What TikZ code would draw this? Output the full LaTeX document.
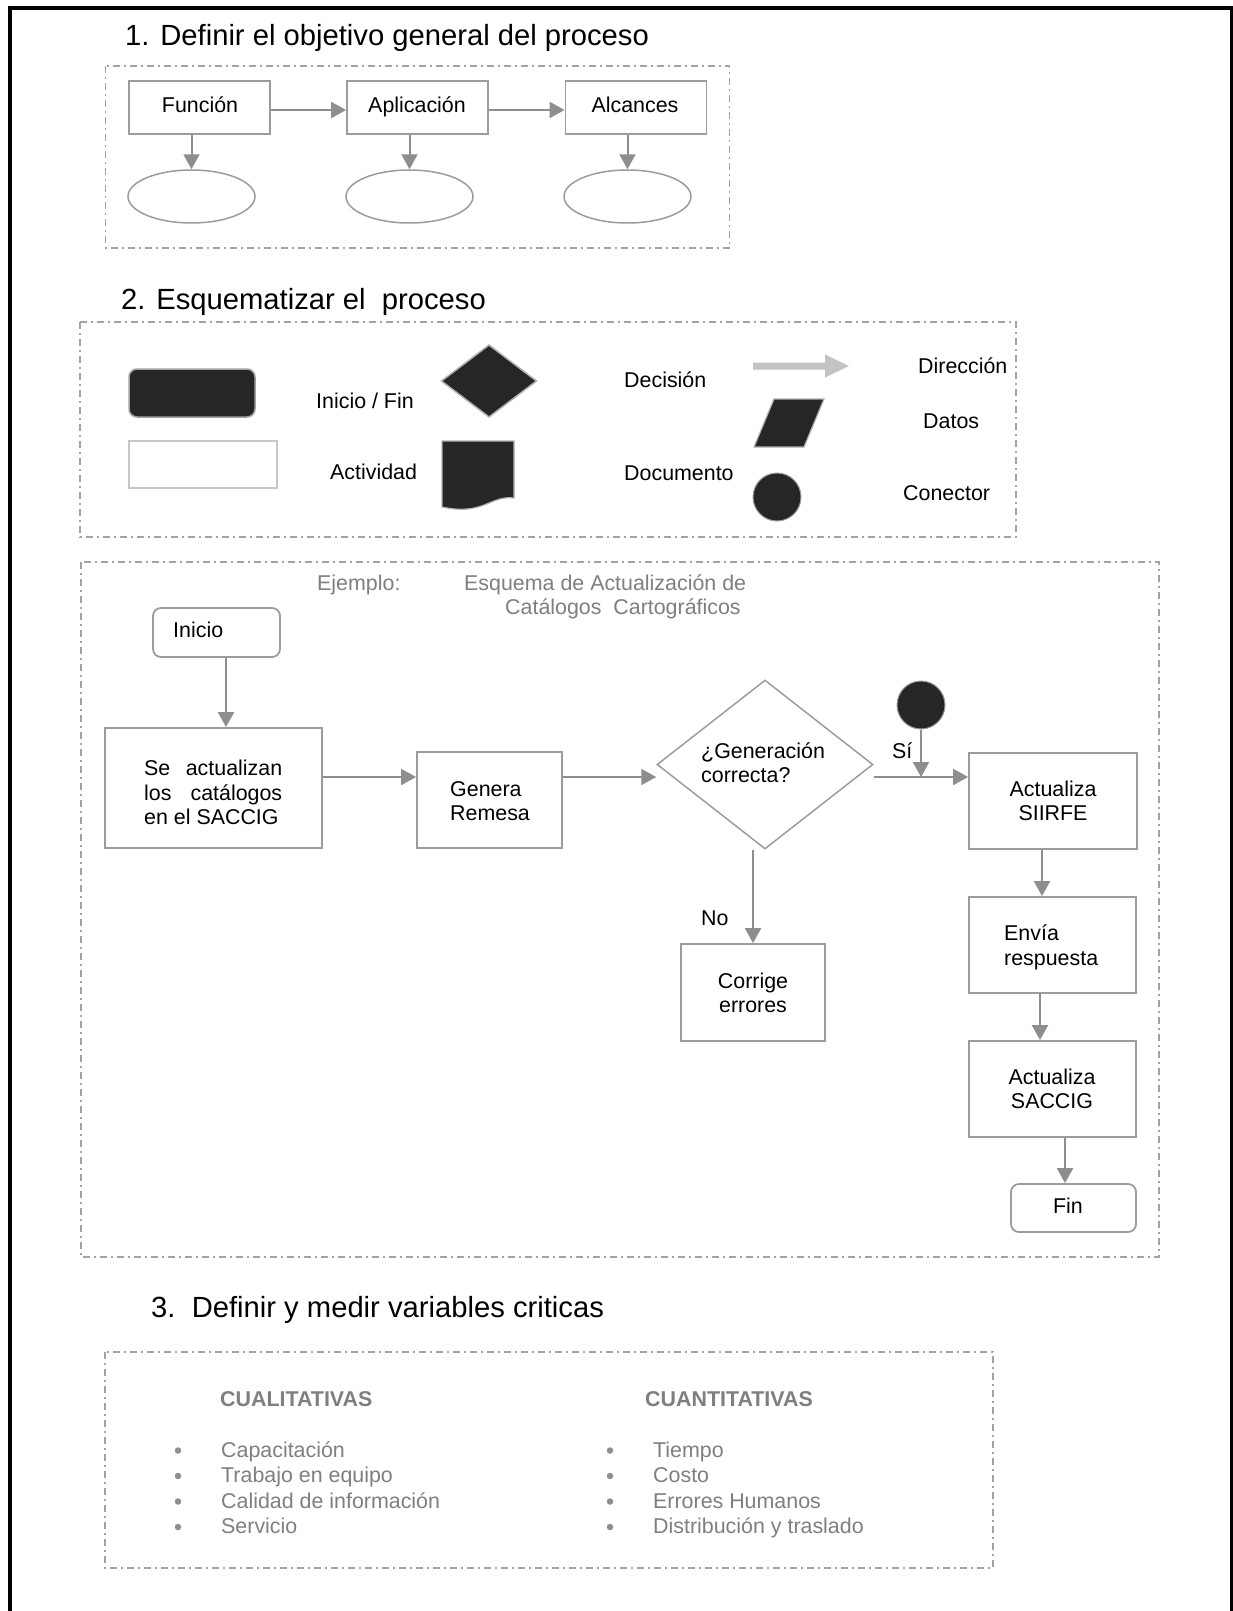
\documentclass[tikz,border=0pt]{standalone}
\usepackage{fontspec}
\setmainfont{Liberation Sans}
\usetikzlibrary{arrows.meta,shapes.geometric}
\definecolor{boxgray}{HTML}{9C9C9C}
\definecolor{arrgray}{HTML}{8E8E8E}
\definecolor{dashgray}{HTML}{A3A3A3}
\definecolor{dark}{HTML}{262626}
\definecolor{txtgray}{HTML}{7F7F7F}
\definecolor{lightarr}{HTML}{C3C3C3}
\newcommand\fsn{\fontsize{21.4}{25}\selectfont}
\newcommand\ttlf{\fontsize{29.2}{33}\selectfont}
\tikzset{
  x=1pt,y=-1pt,
  dashbox/.style={draw=dashgray,line width=1.5pt,dash pattern=on 7pt off 4pt on 2pt off 4pt},
  fbox/.style={draw=boxgray,line width=1.8pt,fill=white,inner sep=0pt,rectangle},
  rbox/.style={fbox,rounded corners=8pt},
  ell/.style={draw=boxgray,line width=1.5pt,ellipse,inner sep=0pt,minimum width=127pt,minimum height=53pt},
  dia/.style={draw=boxgray,line width=1.5pt,diamond,inner sep=0pt,minimum width=216pt,minimum height=169pt},
  conn/.style={circle,fill=dark,draw=boxgray,line width=1pt,minimum size=48pt,inner sep=0pt},
  arr/.style={draw=arrgray,line width=2pt,-{Triangle[length=15pt,width=16pt]}},
  tl/.style={inner sep=0pt,anchor=base west,font=\fsn},
  tc/.style={inner sep=0pt,anchor=base,font=\fsn},
  ttl/.style={inner sep=0pt,anchor=base west,font=\ttlf},
  gl/.style={tl,text=txtgray},
  bul/.style={circle,fill=arrgray,inner sep=0pt,minimum size=6.5pt}
}
\begin{document}
\begin{tikzpicture}
\useasboundingbox (0,0) rectangle (1233,1611);
\fill[white] (0,0) rectangle (1233,1611);
% outer frame
\draw[line width=4pt] (9.5,1611) -- (9.5,8) -- (1231.5,8) -- (1231.5,1611);

% ---------- Section 1 ----------
\node[ttl] (t1) at (125,46) {1. Definir el objetivo general del proceso};
\draw[dashbox] (105.5,66) rectangle (729.5,248);
\node[fbox,minimum width=141pt,minimum height=53pt] (fun) at (199.5,107.5) {};
\node[fbox,minimum width=141pt,minimum height=53pt] (apl) at (417.5,107.5) {};
\node[fbox,minimum width=141pt,minimum height=53pt] (alc) at (636,107.5) {};
\node[tc] (funt) at (200,112) {Función};
\node[tc] (aplt) at (417,112) {Aplicación};
\node[tc] (alct) at (635,112) {Alcances};
\node[ell] (e1) at (191.5,196.5) {};
\node[ell] (e2) at (409.5,196.5) {};
\node[ell] (e3) at (627.5,196.5) {};
\draw[arr] ([yshift=-2.5pt]fun.east) -- ([yshift=-2.5pt]apl.west);
\draw[arr] ([yshift=-2.5pt]apl.east) -- ([yshift=-2.5pt]alc.west);
\draw[arr] (e1.north |- fun.south) -- (e1.north);
\draw[arr] (e2.north |- apl.south) -- (e2.north);
\draw[arr] (e3.north |- alc.south) -- (e3.north);

% ---------- Section 2 legend ----------
\node[ttl] (t2) at (121,309) {2. Esquematizar el\ \ proceso};
\draw[dashbox] (80,322) rectangle (1016,537);
\draw[fill=dark,draw=dashgray,line width=1.5pt,rounded corners=8pt] (129,369) rectangle (255,417);
\draw[fill=white,draw=black!22,line width=1.5pt] (129,441) rectangle (277,488);
\node[tl] (lif) at (316,408) {Inicio / Fin};
\node[tl] (lact) at (330,479) {Actividad};
\draw[fill=dark,draw=black!30,line width=1.5pt] (489,345) -- (536.5,381) -- (489,417) -- (441.5,381) -- cycle;
\draw[fill=dark,draw=black!30,line width=1.2pt] (442,441) -- (514,441) -- (514,498)
   .. controls (490,495) and (484,516) .. (442,507) -- cycle;
\node[tl] (ldec) at (624,387) {Decisión};
\node[tl] (ldoc) at (624,480) {Documento};
\fill[lightarr] (753,362.5) -- (825,362.5) -- (825,354.5) -- (849,366) -- (825,377.5) -- (825,369.5) -- (753,369.5) -- cycle;
\node[tl] (ldir) at (918,373) {Dirección};
\draw[fill=dark,draw=black!30,line width=1.2pt] (774,399) -- (824,399) -- (804,447) -- (754,447) -- cycle;
\node[tl] (ldat) at (923,428) {Datos};
\node[conn] (lcon) at (777,497) {};
\node[tl] (lcont) at (903,500) {Conector};

% ---------- Section 2 example ----------
\draw[dashbox] (81,562) rectangle (1159,1257);
\node[gl] (ej) at (317,590) {Ejemplo:};
\node[gl] (ej1) at (464,590) {Esquema de Actualización de};
\node[gl] (ej2) at (505,614) {Catálogos\ \ Cartográficos};

\node[rbox,minimum width=127pt,minimum height=49pt] (ini) at (216.5,632.5) {};
\node[tl] (init) at (173,637) {Inicio};
\node[fbox,minimum width=217pt,minimum height=120pt] (sac) at (213.5,788) {};
\node[tl] (sac1) at (144,775) {\makebox[138pt][s]{Se actualizan}};
\node[tl] (sac2) at (144,800) {\makebox[138pt][s]{los catálogos}};
\node[tl] (sac3) at (144,824) {en el SACCIG};
\node[fbox,minimum width=145pt,minimum height=96pt] (gen) at (489.5,800) {};
\node[tl] (gen1) at (450,796) {Genera};
\node[tl] (gen2) at (450,820) {Remesa};
\node[dia] (dec) at (765,764.5) {};
\node[tl] (dec1) at (701,758) {¿Generación};
\node[tl] (dec2) at (701,782) {correcta?};
\node[conn] (con) at (921,705) {};
\node[tl] (si) at (892,758) {Sí};
\node[fbox,minimum width=168pt,minimum height=96pt] (sii) at (1053,801) {};
\node[tc] (sii1) at (1053,796) {Actualiza};
\node[tc] (sii2) at (1053,820) {SIIRFE};
\node[fbox,minimum width=167pt,minimum height=96pt] (env) at (1052.5,945) {};
\node[tl] (env1) at (1004,940) {Envía};
\node[tl] (env2) at (1004,965) {respuesta};
\node[fbox,minimum width=167pt,minimum height=96pt] (asa) at (1052.5,1089) {};
\node[tc] (asa1) at (1052,1084) {Actualiza};
\node[tc] (asa2) at (1052,1108) {SACCIG};
\node[rbox,minimum width=125pt,minimum height=48pt] (fin) at (1073.5,1208) {};
\node[tc] (fint) at (1068,1213) {Fin};
\node[fbox,minimum width=144pt,minimum height=97pt] (cor) at (753,992.5) {};
\node[tc] (cor1) at (753,988) {Corrige};
\node[tc] (cor2) at (753,1012) {errores};
\node[tl] (no) at (701,925) {No};

\coordinate (j) at (921,777);
\draw[arr] (ini.south -| 226,0) -- (sac.north -| 226,0);
\draw[arr] (sac.east |- 0,777) -- (gen.west |- 0,777);
\draw[arr] (gen.east |- 0,777) -- (dec.west |- 0,777);
\draw[arr] (dec.east |- 0,777) -- (sii.west |- 0,777);
\draw[arr] (con.south) -- (j);
\draw[arr] (dec.south -| 753,0) -- (cor.north);
\draw[arr] (sii.south -| 1042,0) -- (env.north -| 1042,0);
\draw[arr] (env.south -| 1040,0) -- (asa.north -| 1040,0);
\draw[arr] (asa.south -| 1065,0) -- (fin.north -| 1065,0);

% ---------- Section 3 ----------
\node[ttl] (t3) at (151,1317) {3.\ \ Definir y medir variables criticas};
\draw[dashbox] (105,1352) rectangle (993,1568);
\node[gl,font=\fsn\bfseries] (cual) at (220,1406) {CUALITATIVAS};
\node[gl,font=\fsn\bfseries] (cuan) at (645,1406) {CUANTITATIVAS};
\node[gl] (l1) at (221,1457) {Capacitación};
\node[gl] (l2) at (221,1482.5) {Trabajo en equipo};
\node[gl] (l3) at (221,1508) {Calidad de información};
\node[gl] (l4) at (221,1533.5) {Servicio};
\node[gl] (r1) at (653,1457) {Tiempo};
\node[gl] (r2) at (653,1482.5) {Costo};
\node[gl] (r3) at (653,1508) {Errores Humanos};
\node[gl] (r4) at (653,1533.5) {Distribución y traslado};
\foreach \yy/\nm in {1457/a,1482.5/b,1508/c,1533.5/d}{
  \node[bul] (bl\nm) at (178,\yy-6.5) {};
  \node[bul] (br\nm) at (610,\yy-6.5) {};
}
\end{tikzpicture}
\end{document}
